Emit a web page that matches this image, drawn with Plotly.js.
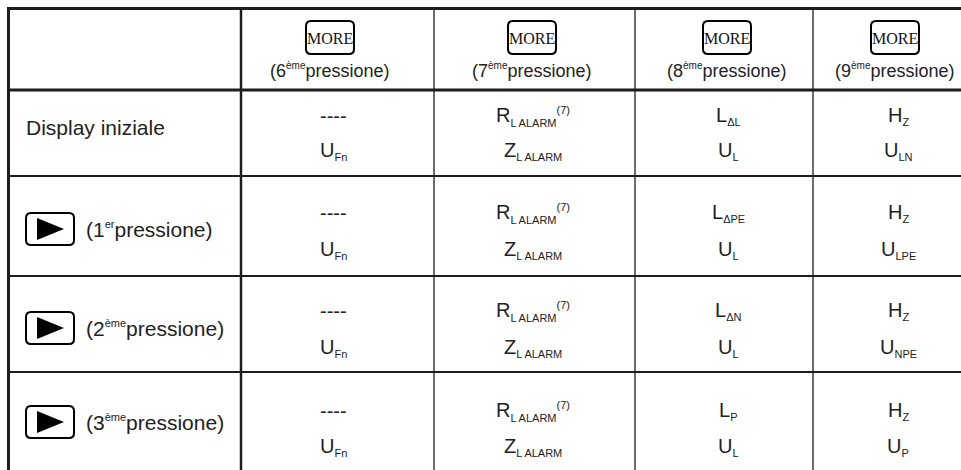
<!DOCTYPE html>
<html><head><meta charset="utf-8">
<script src="https://cdn.plot.ly/plotly-3.0.1.min.js"></script>
<style>html,body{margin:0;padding:0;background:#fff}#chart{width:961px;height:470px}</style>
</head><body><div id="chart"></div>
<script>
// ---- data ----
const headerButton = "MORE";
const headerOrdinals = ["6", "7", "8", "9"];
const headerSuffixes = ["ème", "ème", "ème", "ème"];
const headerWord = "pressione";

const rowLabelText = ["Display iniziale", null, null, null];
const rowOrdinals = [null, "1", "2", "3"];
const rowSuffixes = [null, "er", "ème", "ème"];
const rowHasButton = [false, true, true, true];

// cell text: _{...} subscript, ^{...} superscript
const col6Line1 = ["----", "----", "----", "----"];
const col6Line2 = ["U_{Fn}", "U_{Fn}", "U_{Fn}", "U_{Fn}"];
const col7Line1 = ["R_{L ALARM}^{(7)}", "R_{L ALARM}^{(7)}", "R_{L ALARM}^{(7)}", "R_{L ALARM}^{(7)}"];
const col7Line2 = ["Z_{L ALARM}", "Z_{L ALARM}", "Z_{L ALARM}", "Z_{L ALARM}"];
const col8Line1 = ["L_{ΔL}", "L_{ΔPE}", "L_{ΔN}", "L_{P}"];
const col8Line2 = ["U_{L}", "U_{L}", "U_{L}", "U_{L}"];
const col9Line1 = ["H_{Z}", "H_{Z}", "H_{Z}", "H_{Z}"];
const col9Line2 = ["U_{LN}", "U_{LPE}", "U_{NPE}", "U_{P}"];

// ---- layout geometry ----
const W = 961, H = 470;
const vLines = [{x: 8.5, w: 3, c: "#1e1e1e"}, {x: 241, w: 2.5, c: "#1e1e1e"},
                {x: 434, w: 1.5, c: "#3a3a3a"}, {x: 635, w: 1.5, c: "#3a3a3a"}, {x: 813, w: 1.5, c: "#3a3a3a"}];
const hLines = [{y: 8.5, w: 3}, {y: 90, w: 3}, {y: 176, w: 2}, {y: 276, w: 2}, {y: 372, w: 2}];
const headCX = [330, 532, 727, 895];
const cellCX = [333, 533, 728, 898];
const line1Y = [116, 213, 311, 411];
const line2Y = [151, 250, 348, 447];
const labelY = [127, 229, 328, 422];

const FONT = "Liberation Sans, Arial, sans-serif";
const SERIF = "Liberation Serif, Times New Roman, serif";

function fmt(s) {
  return s.replace(/_\{([^}]*)\}/g, "<sub><span style='font-size:11px'>$1</span></sub>")
          .replace(/\^\{([^}]*)\}/g, "<sup><span style='font-size:11px'>$1</span></sup>");
}
function rr(x0, y0, x1, y1, r) {
  return `M${x0+r},${y0} H${x1-r} Q${x1},${y0} ${x1},${y0+r} V${y1-r} Q${x1},${y1} ${x1-r},${y1} H${x0+r} Q${x0},${y1} ${x0},${y1-r} V${y0+r} Q${x0},${y0} ${x0+r},${y0} Z`;
}

const shapes = [];
const annotations = [];

vLines.forEach(v => shapes.push({type: "line", xref: "x", yref: "y", x0: v.x, x1: v.x, y0: 7, y1: H, line: {color: v.c, width: v.w}}));
hLines.forEach(h => shapes.push({type: "line", xref: "x", yref: "y", x0: 7, x1: W, y0: h.y, y1: h.y, line: {color: "#1e1e1e", width: h.w}}));

// header
headerOrdinals.forEach((o, i) => {
  const cx = headCX[i];
  shapes.push({type: "path", xref: "x", yref: "y", path: rr(cx - 24, 21, cx + 24, 54, 5), line: {color: "#000", width: 2}, fillcolor: "rgba(0,0,0,0)"});
  annotations.push({x: cx, y: 38, xref: "x", yref: "y", text: headerButton, showarrow: false, xanchor: "center", yanchor: "middle",
    font: {family: SERIF, size: 16, color: "#111"}});
  annotations.push({x: cx, y: 70, xref: "x", yref: "y", showarrow: false, xanchor: "center", yanchor: "middle",
    text: "(" + o + "<sup><span style='font-size:10px'>" + headerSuffixes[i] + "</span></sup>" + headerWord + ")",
    font: {family: FONT, size: 18, color: "#222"}});
});

// row labels
rowLabelText.forEach((t, r) => {
  const y = labelY[r];
  if (rowHasButton[r]) {
    shapes.push({type: "path", xref: "x", yref: "y", path: rr(26, y - 16, 74, y + 16, 5), line: {color: "#000", width: 2}, fillcolor: "rgba(0,0,0,0)"});
    shapes.push({type: "path", xref: "x", yref: "y", path: `M37,${y-11} L64,${y} L37,${y+11} Z`, line: {width: 0}, fillcolor: "#000"});
    annotations.push({x: 84, y: y, xref: "x", yref: "y", showarrow: false, xanchor: "left", yanchor: "middle",
      text: "(" + rowOrdinals[r] + "<sup><span style='font-size:11px'>" + rowSuffixes[r] + "</span></sup>" + headerWord + ")",
      font: {family: FONT, size: 21, color: "#222"}});
  } else {
    annotations.push({x: 24, y: y, xref: "x", yref: "y", showarrow: false, xanchor: "left", yanchor: "middle",
      text: t, font: {family: FONT, size: 21, color: "#222"}});
  }
});

// cells
const cols = [[col6Line1, col6Line2], [col7Line1, col7Line2], [col8Line1, col8Line2], [col9Line1, col9Line2]];
cols.forEach((col, c) => {
  for (let r = 0; r < 4; r++) {
    [0, 1].forEach(k => {
      const txt = col[k][r];
      annotations.push({x: cellCX[c], y: (k === 0 ? line1Y[r] : line2Y[r]), xref: "x", yref: "y", showarrow: false,
        xanchor: "center", yanchor: "middle", text: fmt(txt), font: {family: FONT, size: 20, color: "#222"}});
    });
  }
});

const layout = {
  width: W, height: H, margin: {l: 0, r: 0, t: 0, b: 0},
  paper_bgcolor: "#fff", plot_bgcolor: "#fff",
  xaxis: {range: [0, W], visible: false, fixedrange: true},
  yaxis: {range: [H, 0], visible: false, fixedrange: true},
  showlegend: false, shapes: shapes, annotations: annotations
};
Plotly.newPlot("chart", [], layout, {displayModeBar: false, staticPlot: true});
</script></body></html>
